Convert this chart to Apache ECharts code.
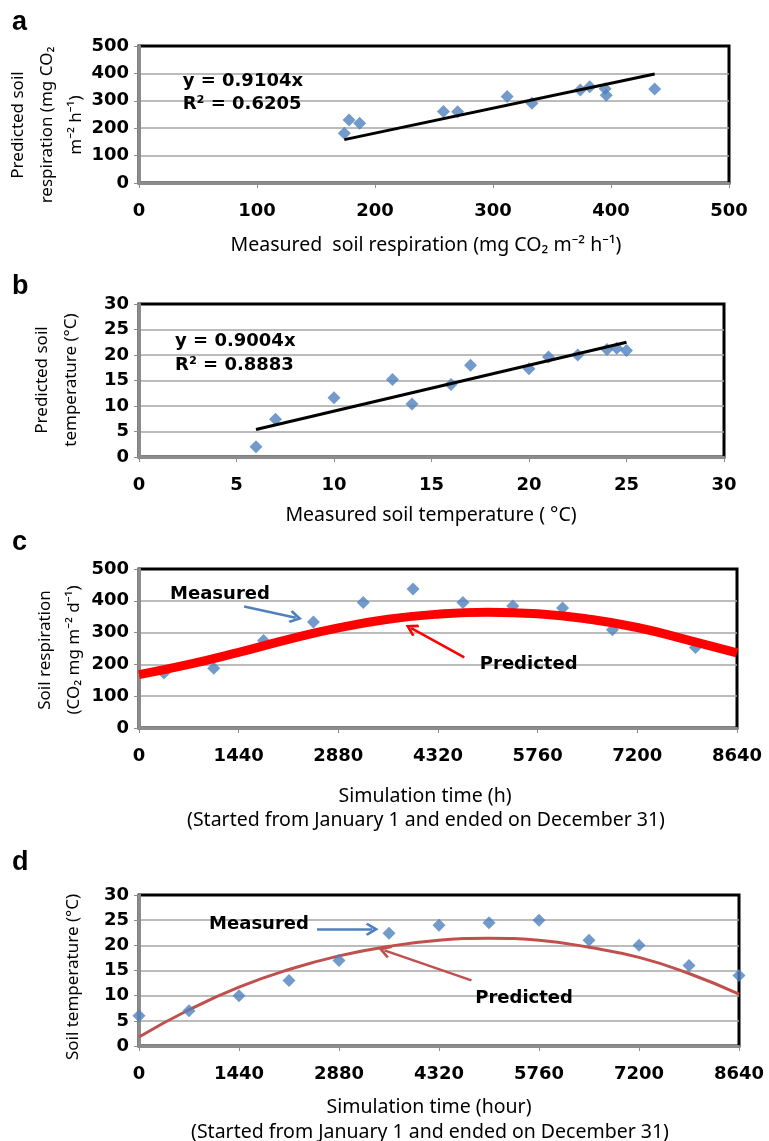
<!DOCTYPE html>
<html>
<head>
<meta charset="utf-8">
<script src="https://cdn.jsdelivr.net/npm/echarts@6/dist/echarts.min.js"></script>
<style>
  html, body { margin: 0; padding: 0; background: #fff; }
  #chart { width: 769px; height: 1141px; }
</style>
</head>
<body>
<div id="chart"></div>
<script>
// (a) Soil respiration: measured vs predicted (mg CO2 m-2 h-1)
var respMeasured  = [174, 178, 187, 258, 270, 312, 333, 374, 382, 395, 396, 437];
var respPredicted = [182, 230, 218, 261, 260, 316, 291, 339, 351, 344, 320, 343];
var respSlope = 0.9104;
var respR2 = 0.6205;
var respTicks = [0, 100, 200, 300, 400, 500];

// (b) Soil temperature: measured vs predicted (degrees C)
var tempMeasured  = [6, 7, 10, 13, 14, 16, 17, 20, 21, 22.5, 24, 24.5, 25];
var tempPredicted = [2, 7.4, 11.6, 15.2, 10.4, 14.2, 18.0, 17.3, 19.6, 20.0, 21.1, 21.3, 20.9];
var tempSlope = 0.9004;
var tempR2 = 0.8883;
var tempTicks = [0, 5, 10, 15, 20, 25, 30];

// (c) Soil respiration over the simulated year
var simHours = [0, 720, 1440, 2160, 2880, 3600, 4320, 5040, 5760, 6480, 7200, 7920, 8640];
var respSimulated = [168, 200, 238, 279, 315, 342, 358, 364, 359, 343, 316, 277, 236];
var respObsHours  = [360, 1080, 1800, 2520, 3240, 3960, 4680, 5400, 6120, 6840, 8040];
var respObsValues = [173, 188, 275, 333, 395, 437, 395, 384, 377, 309, 253];
var hourTicks = [0, 1440, 2880, 4320, 5760, 7200, 8640];

// (d) Soil temperature over the simulated year
var tempObsHours  = [0, 720, 1440, 2160, 2880, 3600, 4320, 5040, 5760, 6480, 7200, 7920, 8640];
var tempObsValues = [6, 7, 10, 13, 17, 22.4, 24, 24.5, 25, 21, 20, 16, 14];
var tempSimulated = [1.8, 7.2, 11.7, 15.2, 17.9, 19.8, 21.0, 21.4, 21.0, 19.6, 17.6, 14.4, 10.3];

var BLUE = '#4F81BD';
var AXIS_GREY = '#8c8c8c';
var GRID_GREY = '#a6a6a6';
var TICK_FONT = 'DejaVu Sans';
var TITLE_FONT = 'Noto Sans';
// open chevron arrow head, pointing along the line
var ARROW_HEAD = 'path://M5,0 L10,7.5 L8.6,8.9 L5,3.6 L1.4,8.9 L0,7.5 Z';

function pairs(xs, ys) {
  var out = [];
  for (var i = 0; i < xs.length; i++) out.push([xs[i], ys[i]]);
  return out;
}

// regression line y = k x across the measured range
function trend(xs, k) {
  var lo = Math.min.apply(null, xs);
  var hi = Math.max.apply(null, xs);
  return [[lo, k * lo], [hi, k * hi]];
}

function axis(gridIndex, ticks, isY) {
  return {
    type: 'value',
    gridIndex: gridIndex,
    min: ticks[0],
    max: ticks[ticks.length - 1],
    interval: ticks[1] - ticks[0],
    axisLine: { show: true, onZero: false, lineStyle: { color: AXIS_GREY, width: 3 } },
    axisTick: { show: true, length: 5, lineStyle: { color: AXIS_GREY, width: 1 } },
    axisLabel: {
      fontFamily: TICK_FONT, fontWeight: 'bold', fontSize: 18, color: '#000',
      margin: isY ? 10 : 19,
      formatter: function (v) { return String(v); }
    },
    splitLine: {
      show: !!isY, showMinLine: false, showMaxLine: false,
      lineStyle: { color: GRID_GREY, width: 1.5 }
    }
  };
}

function scatter(idx, data, z, extra) {
  var s = {
    type: 'scatter', xAxisIndex: idx, yAxisIndex: idx, data: data,
    symbol: 'diamond', symbolSize: [13, 13],
    itemStyle: { color: BLUE }, z: z, silent: true
  };
  for (var k in extra) s[k] = extra[k];
  return s;
}

function textNotes(list, align) {
  var data = [];
  for (var i = 0; i < list.length; i++) {
    data.push({ coord: list[i][0], label: { formatter: list[i][1] } });
  }
  return {
    symbol: 'circle', symbolSize: 0, silent: true, animation: false,
    label: {
      show: true, position: 'inside', align: align,
      fontFamily: TICK_FONT, fontWeight: 'bold', fontSize: 18, color: '#000'
    },
    data: data
  };
}

function arrows(list) {
  var data = [];
  for (var i = 0; i < list.length; i++) {
    data.push([
      { coord: list[i][0], lineStyle: { color: list[i][2], width: 2.5, type: 'solid' } },
      { coord: list[i][1] }
    ]);
  }
  return {
    silent: true, animation: false,
    symbol: ['none', ARROW_HEAD], symbolSize: [13, 13],
    label: { show: false },
    data: data
  };
}

function title(x, y, text, rotate, size) {
  return {
    type: 'text', x: x, y: y, rotation: rotate ? Math.PI / 2 : 0, silent: true,
    style: {
      text: text, fontFamily: TITLE_FONT, fontSize: size, fill: '#000',
      align: 'center', verticalAlign: 'middle', lineHeight: 29
    }
  };
}

function panelTag(y, t) {
  return {
    type: 'text', x: 12, y: y, silent: true,
    style: {
      text: t, fontFamily: 'Liberation Sans', fontWeight: 'bold', fontSize: 27,
      fill: '#000', verticalAlign: 'middle'
    }
  };
}

function gridBox(left, top, width, height) {
  return {
    left: left, top: top, width: width, height: height,
    show: true, borderColor: '#000', borderWidth: 3, backgroundColor: 'transparent'
  };
}

var option = {
  animation: false,
  backgroundColor: '#fff',
  grid: [
    gridBox(139, 46, 590, 137),
    gridBox(139, 304, 585, 153),
    gridBox(139, 569, 598, 159),
    gridBox(139, 895, 600, 151)
  ],
  xAxis: [
    axis(0, respTicks, false),
    axis(1, tempTicks, false),
    axis(2, hourTicks, false),
    axis(3, hourTicks, false)
  ],
  yAxis: [
    axis(0, respTicks, true),
    axis(1, tempTicks, true),
    axis(2, respTicks, true),
    axis(3, tempTicks, true)
  ],
  series: [
    // (a)
    scatter(0, pairs(respMeasured, respPredicted), 3, {
      markPoint: textNotes([
        [[37, 372], 'y = ' + respSlope + 'x'],
        [[37, 288], 'R\u00b2 = ' + respR2]
      ], 'left')
    }),
    {
      type: 'line', xAxisIndex: 0, yAxisIndex: 0, data: trend(respMeasured, respSlope),
      showSymbol: false, lineStyle: { color: '#000', width: 3 }, z: 4, silent: true
    },
    // (b)
    scatter(1, pairs(tempMeasured, tempPredicted), 3, {
      markPoint: textNotes([
        [[1.85, 22.6], 'y = ' + tempSlope + 'x'],
        [[1.85, 18.0], 'R\u00b2 = ' + tempR2]
      ], 'left')
    }),
    {
      type: 'line', xAxisIndex: 1, yAxisIndex: 1, data: trend(tempMeasured, tempSlope),
      showSymbol: false, lineStyle: { color: '#000', width: 3 }, z: 4, silent: true
    },
    // (c)
    scatter(2, pairs(respObsHours, respObsValues), 2, {
      markPoint: textNotes([
        [[1170, 420], 'Measured'],
        [[5630, 199], 'Predicted']
      ], 'center'),
      markLine: arrows([
        [[1519, 382], [2265, 347], BLUE],
        [[4700, 222], [3933, 314], '#ff0000']
      ])
    }),
    {
      type: 'line', xAxisIndex: 2, yAxisIndex: 2, data: pairs(simHours, respSimulated),
      smooth: true, showSymbol: false, lineStyle: { color: '#ff0000', width: 9 }, z: 3, silent: true
    },
    // (d)
    scatter(3, pairs(tempObsHours, tempObsValues), 4, {
      markPoint: textNotes([
        [[1728, 24.1], 'Measured'],
        [[5545, 9.4], 'Predicted']
      ], 'center'),
      markLine: arrows([
        [[2564, 23.2], [3357, 23.2], BLUE],
        [[4787, 13.05], [3534, 19.0], '#C0504D']
      ])
    }),
    {
      type: 'line', xAxisIndex: 3, yAxisIndex: 3, data: pairs(simHours, tempSimulated),
      smooth: true, showSymbol: false, lineStyle: { color: '#C0504D', width: 3 }, z: 3, silent: true
    }
  ],
  graphic: [
    panelTag(23, 'a'),
    panelTag(287, 'b'),
    panelTag(543, 'c'),
    panelTag(863, 'd'),
    title(47, 125, 'Predicted soil\nrespiration (mg CO\u2082\nm\u207b\u00b2 h\u207b\u00b9)', true, 17),
    title(426, 245, 'Measured  soil respiration (mg CO\u2082 m\u207b\u00b2 h\u207b\u00b9)', false, 19.5),
    title(57, 380, 'Predicted soil\ntemperature (\u00b0C)', true, 17),
    title(431, 515, 'Measured soil temperature ( \u00b0C)', false, 19.5),
    title(60, 650, 'Soil respiration\n(CO\u2082 mg m\u207b\u00b2 d\u207b\u00b9)', true, 17),
    title(425, 796, 'Simulation time (h)', false, 19.5),
    title(426, 820, '(Started from January 1 and ended on December 31)', false, 19.5),
    title(73, 977, 'Soil temperature (\u00b0C)', true, 17),
    title(429, 1107, 'Simulation time (hour)', false, 19.5),
    title(430, 1132, '(Started from January 1 and ended on December 31)', false, 19.5)
  ]
};

var chart = echarts.init(document.getElementById('chart'), null, { renderer: 'canvas' });
chart.setOption(option);
</script>
</body>
</html>
